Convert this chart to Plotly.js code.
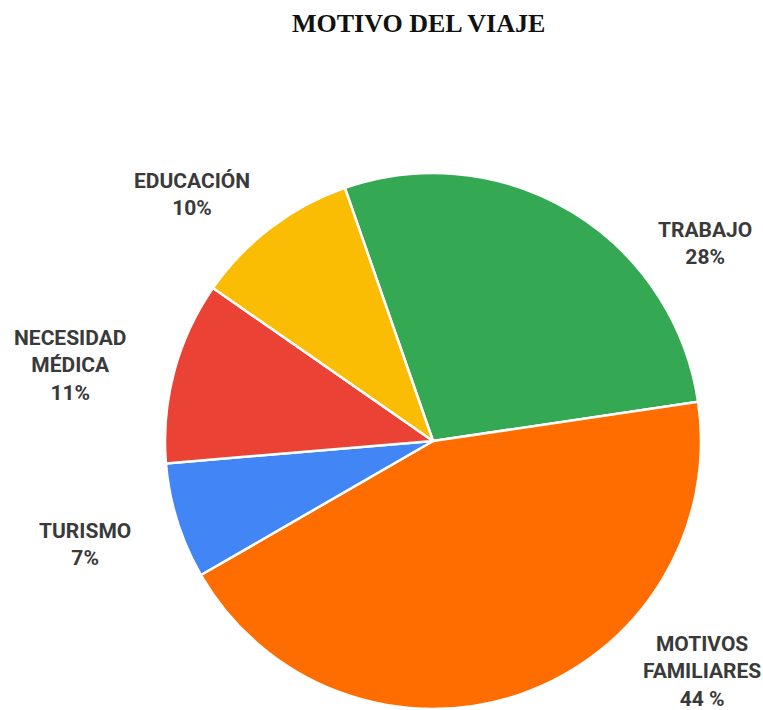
<!DOCTYPE html>
<html>
<head>
<meta charset="utf-8">
<script src="https://cdn.plot.ly/plotly-3.0.1.min.js"></script>
<style>html,body{margin:0;padding:0;background:#fff;}#chart{width:763px;height:710px;}</style>
</head>
<body>
<div id="chart"></div>
<script>
// Data
const categories = ["TRABAJO", "MOTIVOS FAMILIARES", "TURISMO", "NECESIDAD MÉDICA", "EDUCACIÓN"];
const values = [28, 44, 7, 11, 10];
const labelText = ["TRABAJO<br>28%", "MOTIVOS<br>FAMILIARES<br>44 %", "TURISMO<br>7%", "NECESIDAD<br>MÉDICA<br>11%", "EDUCACIÓN<br>10%"];
const colors = ["#34A853", "#FF6D01", "#4285F4", "#EA4335", "#FBBC04"];

// Label placement (pixel centres in the 763x710 frame)
const labelPos = [[705, 243], [702, 671], [85, 544], [70, 365], [192, 194]];

const W = 763, H = 710;
const annotations = labelText.map((t, i) => ({
  text: t,
  x: labelPos[i][0] / W, y: 1 - labelPos[i][1] / H,
  xref: 'paper', yref: 'paper', xanchor: 'center', yanchor: 'middle',
  showarrow: false, align: 'center',
  font: {family: 'Roboto, Arial, sans-serif', size: 21, color: '#3a3a3a', weight: 'bold'}
}));
annotations.push({
  text: '<b>MOTIVO DEL VIAJE</b>',
  x: 418 / W, y: 1 - 24 / H, xref: 'paper', yref: 'paper',
  xanchor: 'center', yanchor: 'middle', showarrow: false,
  font: {family: '"Liberation Serif", "Times New Roman", serif', size: 26, color: '#111'}
});

const trace = {
  type: 'pie',
  labels: categories,
  values: values,
  sort: false,
  direction: 'clockwise',
  rotation: -19.2,
  textinfo: 'none',
  hoverinfo: 'label+percent',
  marker: {colors: colors, line: {color: '#ffffff', width: 2.5}},
  domain: {x: [165 / W, 701 / W], y: [1 - 709 / H, 1 - 173 / H]}
};

Plotly.newPlot('chart', [trace], {
  width: W, height: H,
  margin: {l: 0, r: 0, t: 0, b: 0},
  showlegend: false,
  paper_bgcolor: '#ffffff',
  annotations: annotations
}, {displayModeBar: false, staticPlot: true});
</script>
</body>
</html>
